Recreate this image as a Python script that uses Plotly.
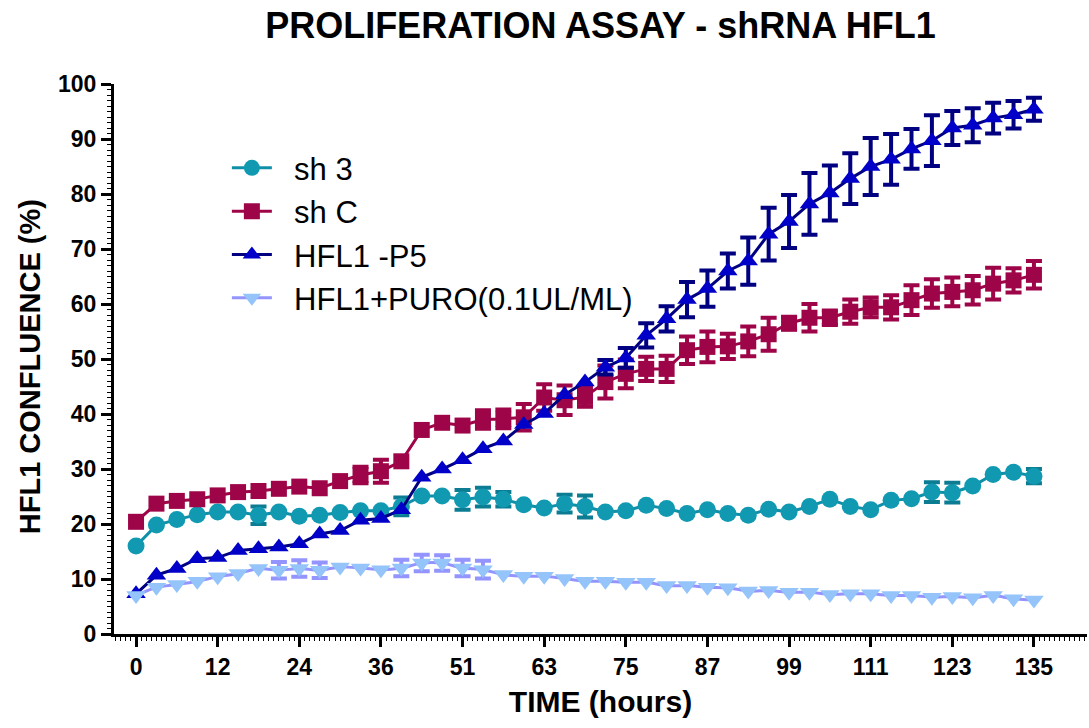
import plotly.graph_objects as go

# sample index 0..44 (one measurement per point), tick labels in hours
tick_idx = [0, 4, 8, 12, 16, 20, 24, 28, 32, 36, 40, 44]
tick_labels = ["0", "12", "24", "36", "51", "63", "75", "87", "99", "111", "123", "135"]
idx = list(range(45))

sh3 = [16.0, 19.8, 20.8, 21.7, 22.2, 22.2, 21.6, 22.2, 21.4, 21.6, 22.1, 22.4, 22.4, 23.2, 25.1,
       25.1, 24.4, 24.9, 24.5, 23.5, 22.9, 23.7, 23.2, 22.2, 22.4, 23.4, 22.8, 21.9, 22.6, 21.9,
       21.6, 22.7, 22.2, 23.2, 24.5, 23.2, 22.6, 24.3, 24.6, 25.8, 25.7, 26.9, 29.0, 29.4, 28.7]
sh3_err = {6: 1.6, 13: 1.6, 16: 1.8, 17: 1.7, 18: 1.3, 21: 1.6, 22: 2.0, 39: 1.8, 40: 1.8, 44: 1.3}

shC = [20.4, 23.7, 24.2, 24.5, 25.2, 25.8, 26.0, 26.4, 26.8, 26.5, 27.8, 28.9, 29.6, 31.4, 37.1,
       38.4, 37.9, 39.0, 39.1, 39.4, 43.0, 42.5, 43.1, 45.8, 47.3, 48.2, 48.2, 51.6, 52.2, 52.3,
       53.2, 54.5, 56.5, 57.5, 57.5, 58.6, 59.4, 59.4, 60.7, 61.9, 62.2, 62.5, 63.7, 64.3, 65.3]
shC_err = {11: 1.5, 12: 2.1, 17: 1.7, 18: 1.7, 19: 2.4, 20: 2.4, 21: 2.7, 22: 1.8, 23: 3.0,
           24: 2.6, 25: 2.2, 26: 2.4, 27: 2.5, 28: 2.8, 29: 2.3, 30: 2.7, 31: 3.0, 32: 1.2,
           33: 2.5, 34: 1.3, 35: 2.2, 36: 1.8, 37: 2.2, 38: 2.7, 39: 2.6, 40: 2.6, 41: 2.6,
           42: 2.9, 43: 2.2, 44: 2.5}

hfl = [7.3, 10.7, 11.9, 13.7, 13.9, 15.2, 15.5, 15.8, 16.4, 18.2, 18.8, 20.7, 21.0, 22.6, 28.5,
       30.0, 31.7, 33.7, 35.1, 38.1, 40.1, 43.5, 45.8, 48.5, 50.2, 54.3, 57.3, 60.8, 62.8, 66.0,
       67.8, 72.7, 75.0, 78.2, 80.2, 82.8, 85.0, 86.3, 88.2, 89.7, 92.0, 92.5, 93.8, 94.4, 95.4]
hfl_err = {23: 1.3, 24: 1.8, 25: 2.2, 26: 2.3, 27: 3.2, 28: 3.3, 29: 3.2, 30: 4.3, 31: 4.8,
           32: 4.8, 33: 5.6, 34: 5.0, 35: 4.6, 36: 5.2, 37: 4.6, 38: 3.6, 39: 4.6, 40: 3.1,
           41: 3.1, 42: 2.8, 43: 2.5, 44: 2.1}

puro = [7.0, 8.5, 9.0, 9.6, 10.4, 11.0, 11.9, 11.6, 11.9, 11.6, 12.2, 12.0, 11.7, 12.0, 12.9,
        12.9, 12.0, 11.7, 10.8, 10.5, 10.5, 10.1, 9.6, 9.6, 9.4, 9.4, 8.8, 8.8, 8.5, 8.4,
        7.8, 7.9, 7.6, 7.6, 7.2, 7.3, 7.3, 7.0, 7.0, 6.7, 6.8, 6.6, 7.0, 6.4, 6.2]
puro_err = {7: 1.5, 8: 1.5, 9: 1.4, 13: 1.5, 14: 1.5, 15: 1.4, 16: 1.5, 17: 1.6}

series = [
    dict(name="sh 3", y=sh3, err=sh3_err, symbol="circle", size=17,
         mcolor="#1199B2", lcolor="#1090A8", ecolor="#0B7C92", shape="linear"),
    dict(name="sh C", y=shC, err=shC_err, symbol="square", size=16,
         mcolor="#9E0548", lcolor="#9E0548", ecolor="#9E0548", shape="linear"),
    dict(name="HFL1 -P5", y=hfl, err=hfl_err, symbol="triangle-up", size=17,
         mcolor="#0000C8", lcolor="#000080", ecolor="#000080", shape="linear"),
    dict(name="HFL1+PURO(0.1UL/ML)", y=puro, err=puro_err, symbol="triangle-down", size=17,
         mcolor="#94C4FA", lcolor="#9494FF", ecolor="#9494FF", shape="spline"),
]

fig = go.Figure()
for s in series:
    ex = sorted(s["err"].keys())
    fig.add_trace(go.Scatter(
        x=ex, y=[s["y"][i] for i in ex], mode="markers",
        marker=dict(size=1, opacity=0), showlegend=False, hoverinfo="skip",
        error_y=dict(type="data", array=[s["err"][i] for i in ex], color=s["ecolor"],
                     thickness=4, width=8),
        cliponaxis=False))
    fig.add_trace(go.Scatter(
        x=idx, y=s["y"], mode="lines+markers", name="\u00a0\u00a0" + s["name"],
        line=dict(color=s["lcolor"], width=3, shape=s["shape"], smoothing=0.6),
        marker=dict(symbol=s["symbol"], size=s["size"], color=s["mcolor"], line=dict(width=0)),
        cliponaxis=False))

FONT = "Arial, Liberation Sans, sans-serif"
fig.update_layout(
    width=1089, height=728,
    margin=dict(l=114, r=2, t=84, b=94),
    paper_bgcolor="white", plot_bgcolor="white",
    title=dict(text="<b>PROLIFERATION ASSAY - shRNA HFL1</b>", x=0.5, xref="paper",
               y=1 - 25 / 728, yref="container", yanchor="middle", xanchor="center",
               font=dict(family=FONT, size=36, color="black")),
    legend=dict(x=0.116, y=0.896, xanchor="left", yanchor="top", bgcolor="rgba(0,0,0,0)",
                font=dict(family=FONT, size=31, color="black"), itemwidth=40),
    showlegend=True,
    annotations=[dict(text="<b>HFL1 CONFLUENCE (%)</b>", textangle=-90,
                      xref="paper", yref="paper", x=(30 - 114) / 973, y=(633.6 - 367) / 549.6,
                      xanchor="center", yanchor="middle", showarrow=False,
                      font=dict(family=FONT, size=29, color="black"))],
)
fig.update_xaxes(
    range=[-1.08, 46.6], tickmode="array", tickvals=tick_idx, ticktext=tick_labels,
    showgrid=False, zeroline=False, showline=True, linecolor="black", linewidth=3,
    ticks="outside", ticklen=10, tickwidth=3, tickcolor="black",
    tickfont=dict(family=FONT, size=23, color="black", weight="bold"),
    minor=dict(tickmode="linear", tick0=0, dtick=0.25, ticks="outside", ticklen=4,
               tickwidth=1, tickcolor="black"),
    title=dict(text="<b>TIME (hours)</b>", font=dict(family=FONT, size=30, color="black"),
               standoff=13),
)
fig.update_yaxes(
    range=[0, 100], tickmode="linear", tick0=0, dtick=10,
    showgrid=False, zeroline=False, showline=True, linecolor="black", linewidth=3,
    ticks="outside", ticklen=10, tickwidth=3, tickcolor="black",
    tickfont=dict(family=FONT, size=23, color="black", weight="bold"),
    minor=dict(tickmode="linear", tick0=0, dtick=1, ticks="outside", ticklen=4,
               tickwidth=1, tickcolor="black"),
)
fig.write_html("out.html")
